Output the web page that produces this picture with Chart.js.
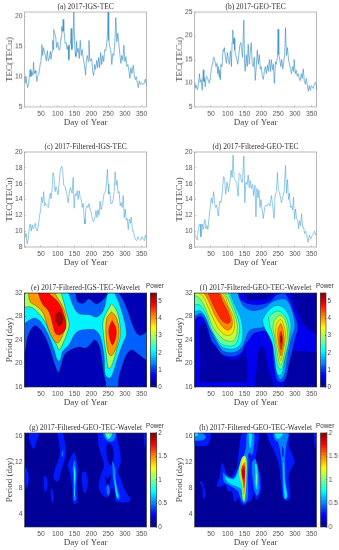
<!DOCTYPE html>
<html lang="en">
<head>
    <meta charset="UTF-8">
    <title>2017 TEC and wavelet panels</title>
    <script src="https://cdn.jsdelivr.net/npm/chart.js@4"></script>
    <style>
        html, body { margin: 0; padding: 0; background: #fff; }
        body { width: 339px; height: 550px; position: relative; overflow: hidden; }
        canvas { position: absolute; }
    </style>
</head>
<body>
    <script>
        // Axis ticks
        const dayTicks = [50, 100, 150, 200, 250, 300, 350];
        const igsTicks = [5, 10, 15, 20];
        const geoTicks = [5, 10, 15, 20, 25];
        const filteredTicks = [8, 10, 12, 14, 16, 18, 20];
        const longPeriodTicks = [16, 20, 24, 28, 32];
        const shortPeriodTicks = [4, 8, 12, 16];
        const powerTicksLong = [0, 1, 2, 3, 4, 5];
        const powerTicksShort = [0, 0.5, 1, 1.5, 2];

        // Panel (a)
        const igsDays = [1,3,5,8,10,13,16,18,20,23,26,28,30,33,35,38,40,43,46,48,50,53,55,58,60,63,66,69,72,75,78,80,83,85,87,88,91,94,97,100,103,106,110,112,114,116,118,120,122,125,128,131,133,135,138,140,142,145,148,150,152,154,156,158,161,164,167,170,173,176,180,183,185,188,191,193,195,198,201,204,207,210,213,216,219,222,225,228,231,234,237,240,243,246,248,250,252,255,258,261,264,267,270,273,276,279,282,285,288,291,294,297,300,303,306,309,312,315,318,321,325,328,331,334,337,340,343,346,350,354,358,361,365];
        const igsTec = [10,9,10.1,8.8,8.2,8.7,10.5,11.2,10,10.8,10.2,12.4,10.5,11,10.6,9.2,10.1,10.3,11.3,12.2,12.5,15.3,13.5,14.8,14.2,13.5,12.6,14.3,12.6,13,14.2,12.9,14.2,16,14.5,17.8,17.2,16.5,14.8,15.7,14.5,14.4,16.5,18.3,17.5,19.5,17.5,17,15.5,15.7,14.5,15.2,12.8,15,15.5,18,14.5,15.5,20.7,16,14,13.3,15.9,14,14.7,13,16,13.5,14.5,13,11.7,10.3,12.5,13.5,12.5,16,13,12.6,13,10.8,10.2,12,11.2,12.7,11.5,13.2,11.5,14,12,13.5,12.5,14.5,14.3,15.5,17,20.7,16,15,14.5,12,13.8,13.5,15.5,19.8,15.8,17.2,15.5,13.8,12.2,13.5,12.7,15.2,12.5,13.3,11.7,12,11,9.7,11.5,10.5,11.9,10.3,9.5,10,9,8.2,9.3,8.7,9,8.7,9,9.6,8.4];

        // Panel (b)
        const geoDays = [1,3,5,8,10,13,16,18,21,24,27,29,31,33,36,39,42,45,48,51,54,56,59,62,65,68,70,72,74,76,78,80,83,86,88,90,93,96,99,102,105,108,111,113,115,117,119,121,124,127,130,133,136,139,141,144,148,150,152,155,158,161,164,167,170,173,176,179,182,185,188,191,194,197,200,203,206,209,212,215,218,221,224,227,230,233,236,239,242,245,248,250,252,255,258,261,264,267,270,272,275,278,281,284,287,290,293,296,298,301,304,307,310,313,316,319,322,325,328,331,334,337,340,343,346,349,352,355,358,361,364,365];
        const geoTec = [10,9,9.7,9,8.6,9.8,12,10.2,10.8,8.5,12.8,10.3,11,9.2,11.5,11.3,10.6,10,11,13,14,15,15.5,14.6,13.5,14.2,12,13.5,11.3,12.8,10.7,14,13.5,17,16.8,17.5,15.5,14.2,16.5,14.8,14,16.8,13.5,18.7,21.2,18.2,19.5,17,15.8,15,14,16,18,18.6,17.3,15.5,23.3,14.5,12.5,16,13.5,18.2,14,16.5,18.5,14,13.5,15.5,10.6,13.5,17,14,16,13,13.5,11.5,10.8,12.5,13.5,12,13.8,12.5,15,12.5,15,12.8,14,10,14.5,14,15.5,21.4,16,15,13.5,15,13,14.5,16.5,21.7,15.8,17.5,15,14,13,12,13.5,12.5,15,12,12.7,11.5,12,11,10.5,12,11,13,10.5,9.8,11,9.5,8.3,9.5,8.5,9.5,9.3,8.9,9.8,10.2,9.5,8.6];

        // Panel (c)
        const filteredIgsDays = [1,3,6,9,12,15,18,21,24,27,30,33,36,39,42,46,49,52,55,58,61,64,68,72,75,78,80,83,86,89,92,95,98,101,105,108,112,115,118,122,125,128,131,135,138,141,143,146,149,152,155,158,161,164,167,170,173,176,179,181,184,187,190,193,196,199,203,207,211,214,217,220,223,226,229,232,235,238,242,245,248,250,252,255,258,262,265,268,271,274,277,280,283,286,289,292,295,298,301,304,307,310,313,316,319,323,326,329,332,335,339,343,347,351,354,358,361,365];
        const filteredIgsTec = [10.2,9.2,9.7,8.4,9,10.3,10.9,10,10.8,10.3,10.6,11,10.2,10,10.6,12,12.6,14.3,13.6,15,13.2,13.5,13.2,13,14.2,14.8,14.1,15.2,17.4,16.8,15,15.6,15.2,14.6,16.5,17.8,18.2,17.5,15.8,15.6,15,14.5,13.6,15,15.5,15,14.8,16.8,12.9,14.7,14.5,15.1,14,15.1,14.2,14,13,13.5,11.5,10.9,12.8,13.2,13,13.5,12.8,12.5,11.5,11.2,11.8,12.6,11.7,12.7,12,13.8,12.7,13.2,13.8,14.8,15,16,17.8,16,14.7,15,13.5,13.5,14,15,17.5,15.8,16.4,14.8,15,13.2,13.6,13,14.5,11.7,12.8,11.4,11.6,10.2,11.5,11,11.8,10,10,9.2,8.9,8.8,9.3,9,8.9,9.3,9,8.8,9.5,8.9];

        // Panel (d)
        const filteredGeoDays = [1,3,6,9,12,15,18,20,24,27,32,35,38,41,45,48,51,54,58,61,64,67,72,76,80,84,88,91,94,98,102,106,110,113,116,119,123,127,131,134,138,141,144,148,151,154,158,161,164,167,170,174,177,181,184,187,190,193,196,199,203,206,210,214,218,222,226,230,234,238,241,245,248,251,254,258,260,264,268,272,275,278,281,284,287,290,293,296,299,302,305,308,311,314,317,320,323,326,329,332,335,339,343,347,351,355,359,362,365];
        const filteredGeoTec = [10,9.5,9.2,8.9,10,10.8,10.9,9.3,10.9,10.2,11.5,10.3,10.7,10.2,12,13,14.2,13.5,15,13.5,13,13.3,11.9,13.8,13.6,15,16.9,16.5,14.7,16.2,15,16,17.7,16.8,19.6,16.6,16.4,16,14.4,17.3,17.1,16.2,16.2,19.5,13.6,16.2,15.9,17.1,15.5,16.4,15.4,15.9,14.5,15.8,11.8,15.4,14.2,15.2,13,14,12.5,11.6,13,13.3,13.2,13.5,13.2,14.5,13.2,11.6,14.5,15,17.4,15.1,15,14,13.6,14.3,15,18.3,14.8,16.5,14,14.8,13,13.2,12.7,14.3,11.5,12.8,11.6,11.5,10.3,11.3,10.7,12.2,10.5,10.5,9.7,10,9.5,8.6,9.5,9,9.4,9.7,10,9.5,9.7];

        // Contour bands: power of the band, then its outline as day,period pairs
        const bandsE = [
            [0.3, [1,16, 365,16, 365,32, 1,32]],
            [1.2, [1,16, 365,16, 365,32, 1,32]],
            [0.3, [1,16, 1,21.5, 4,22.2, 11,24.6, 24,26.1, 34,26.4, 49,25.7, 64,24.3, 79,22, 91,19.8, 102,18.5, 111,19.8, 121,21.5, 138,22.3, 163,22.8, 183,22.6, 196,23.2, 211,24, 224,22.9, 231,20.6, 236,18.4, 238,16]],
            [0.3, [280,16, 283,17.8, 290,19.2, 305,21.5, 320,22.3, 335,21.8, 355,20.9, 365,20.3, 365,16]],
            [0.3, [283,32, 295,30.8, 310,28.8, 325,26.3, 340,24.9, 355,25, 365,25.6, 365,32]],
            [0.3, [153,32, 160,30.5, 178,30.3, 193,31, 213,30.2, 228,30.5, 246,32]],
            [2.0, [1,26.8, 29,27.7, 49,27.1, 74,24.6, 89,22.3, 99,20.6, 107,20.5, 114,22, 134,23.2, 150,24.9, 165,25.6, 196,25.8, 211,25.7, 226,24.6, 238,21.2, 241,18.1, 255,17.5, 265,18.4, 280,21.2, 295,23.5, 305,25.1, 290,29.1, 270,31.9, 265,32, 250,32, 236,29.1, 216,27.9, 196,28.3, 163,28.5, 148,29.6, 133,31.9, 130,32, 1,32]],
            [3.0, [1,29.6, 20,29.6, 39,28.8, 59,27.4, 79,25.1, 99,22.9, 104,22.3, 114,23.2, 131,25.7, 134,26.8, 124,29.1, 111,31.9, 108,32, 1,32]],
            [4.0, [13,32, 18,30.5, 38,29.7, 57,28.5, 77,25.1, 99,23.5, 117,25.1, 125,27.4, 117,29.4, 92,31.9, 92,32]],
            [4.8, [42,32, 54,30.2, 74,28.8, 87,26.3, 94,25.1, 107,24.9, 124,26, 121,27.7, 104,30.2, 74,31.9, 74,32]],
            [5.3, [94,28.2, 94,27.4, 104,26.4, 114,27.1, 114,28, 104,28.8]],
            [3.0, [260,30.2, 275,29.1, 285,26.8, 287,24.9, 275,22.3, 260,19.5, 251,19.2, 244,21.8, 236,25.1, 236,27.4]],
            [4.0, [260,28.8, 273,28, 283,25.7, 275,22.9, 260,21.3, 251,21.8, 244,24.6, 246,27.7]],
            [4.8, [262,27.3, 273,26, 273,24.6, 263,23.2, 254,24.6, 253,26]]
        ];

        const bandsF = [
            [0.2, [1,16, 365,16, 365,32, 1,32]],
            [0.6, [1,16, 365,16, 365,32, 1,32]],
            [0.2, [17,16.9, 20,20, 17,24, 15,25.5, 22,26.5, 30,26.9, 38,25.5, 45,24.5, 55,23.2, 75,22.3, 90,21, 120,20.6, 145,21.4, 150,22.5, 155,20, 155,17, 150,16.9]],
            [0.2, [184,16, 184,17, 188,19.5, 193,22, 203,22.9, 213,21.2, 223,18.4, 233,17, 233,16]],
            [0.2, [268,16, 275,18, 280,20, 283,21.8, 298,22, 330,22, 357,21.8, 365,21.6, 365,16]],
            [0.2, [288,32, 298,30.2, 312,28.5, 332,26.3, 362,25.1, 365,25, 365,32]],
            [0.2, [150,32, 160,31, 185,30.9, 215,31.1, 235,32]],
            [1.1, [1,27.3, 15,28, 28,27.6, 40,26, 50,24, 65,22.9, 85,21.5, 120,21.2, 143,22, 150,23, 163,24, 175,25, 190,25.3, 210,25.5, 228,25, 235,24, 235,21, 240,18.7, 246,17.2, 260,16.8, 273,17.5, 283,20, 293,22.3, 300,24, 309,26.3, 298,28.5, 283,30.8, 272,31.9, 272,32, 250,31.8, 243,31.6, 225,30.5, 190,30, 160,30.2, 140,30.8, 125,31.8, 125,32, 1,32]],
            [1.6, [1,28, 20,28.5, 35,27.5, 50,25.5, 63,24, 75,22.9, 90,22, 120,21.9, 140,22.6, 150,23.7, 165,25.6, 190,26, 225,26, 238,24, 240,21.2, 245,19, 253,17.4, 260,17.3, 270,18.4, 278,21.2, 288,24, 300,26.5, 288,29.6, 275,30.8, 262,31, 235,30.6, 210,29.5, 175,29, 150,29.6, 135,31, 128,32, 1,32]],
            [2.1, [1,28.8, 18,29, 33,28, 47,26, 60,24.8, 72,23.5, 88,22.7, 120,22.5, 138,23.3, 145,25, 140,27.5, 125,29.5, 110,31.5, 108,32, 1,32]],
            [2.1, [203,27.4, 223,29.1, 248,29.9, 273,29.1, 288,26.8, 283,24, 270,20.7, 262,18.4, 253,18, 246,18.4, 238,21.5, 232,23.5, 220,25, 210,26]],
            [2.6, [1,30, 15,30, 30,29, 42,27.5, 52,25.7, 68,24.2, 85,23.2, 120,23.1, 132,24.5, 135,26.5, 125,28.5, 105,31.5, 100,32, 1,32]],
            [3.1, [1,31.5, 10,31.4, 25,30.4, 40,28.5, 55,26.3, 72,25, 92,24, 118,23.9, 128,25.5, 125,27.5, 112,29.5, 92,31.9, 90,32, 1,32]],
            [3.6, [15,32, 28,31.3, 42,29.5, 58,27.5, 75,25.7, 95,24.8, 112,25, 120,26, 118,27.7, 103,29.7, 82,32]],
            [4.1, [28,32, 35,31.5, 48,30, 62,28.2, 78,26.7, 98,25.7, 110,26, 114,27, 108,28.6, 92,30.6, 75,32]],
            [4.6, [42,32, 52,30.5, 67,28.8, 83,27.3, 100,26.8, 108,27.3, 100,28.8, 85,30.5, 72,32]],
            [2.6, [222,28, 245,28.9, 265,28.5, 280,26.8, 282,24, 270,21, 262,19.2, 255,19, 247,20, 240,23, 233,25, 225,26.5]],
            [3.1, [238,27.3, 255,28.2, 270,27.5, 278,25, 268,21.5, 258,19.7, 250,21, 240,24.5, 235,26]],
            [3.6, [245,26.8, 258,27.5, 270,26, 272,24.5, 265,22, 258,20.5, 250,22.5, 242,25]],
            [4.1, [250,26, 258,26.8, 266,25.5, 268,23.8, 262,22, 258,21.3, 252,23, 248,25]],
            [4.6, [255,25, 259,25.5, 263,24.5, 263,23.5, 259,22.3, 255,23.5]],
            [5.3, [258,24.7, 260,24.7, 260,23.5, 258,23.5]]
        ];

        const bandsG = [
            [0.05, [1,2, 365,2, 365,16.5, 1,16.5]],
            [0.3, [13,16.5, 18,15, 28,14, 36,15, 43,16.5]],
            [0.3, [1,11.3, 8,11, 15,9.5, 8,8, 1,9]],
            [0.3, [58,9.8, 66,9.8, 70,8.5, 66,7.5, 60,7.5]],
            [0.3, [78,8, 86,7.5, 88,6, 82,5.8]],
            [0.3, [98,16.5, 104,15, 106,13.5, 100,12, 92,11, 88,9.5, 100,9, 112,11, 122,12.5, 125,14, 120,15.5, 115,16.5]],
            [0.5, [113,13.9, 116,13.6, 115,12.8, 112,13]],
            [0.3, [140,13, 150,13.5, 158,12, 162,11, 158,9, 160,7, 158,5.8, 150,5.5, 145,6, 143,8, 135,10.5, 130,11.5]],
            [0.3, [172,10.5, 183,10.5, 190,9, 185,7.5, 178,7.2, 172,9]],
            [0.3, [218,16.5, 222,14.5, 230,13, 238,11.5, 228,10, 222,8, 232,7, 245,6.5, 252,6.7, 260,8, 268,7.5, 272,6, 285,5.8, 305,5.8, 318,6.2, 308,7, 298,8, 288,9.5, 280,10.5, 288,12, 285,14, 278,15.5, 272,16.5]],
            [0.05, [248,15, 262,14.5, 266,12.5, 258,11.5, 248,12.5, 245,14]],
            [0.05, [240,10, 248,9.5, 258,10, 255,8.7, 248,8.2]],
            [0.5, [234,16.5, 272,16.5, 266,15.3, 252,15.2, 243,15.5]],
            [0.8, [240,16.5, 262,16.5, 255,15.7, 248,15.6]],
            [1.1, [245,16.5, 255,16.5, 250,16]],
            [0.5, [262,12.3, 272,11, 272,9.5, 280,7.5, 285,6.5, 278,6.2, 270,8, 264,10]],
            [0.7, [268,11.5, 270,10, 278,7.3, 281,6.7, 276,6.5, 270,8.5]],
            [0.5, [250,8.7, 255,7.5, 250,6.8, 245,8]],
            [0.5, [150,12.5, 155,11, 155,9, 152,7, 155,6.3, 148,6, 147,8, 147,10, 144,11]],
            [0.8, [150,11.5, 153,10, 150,8.5, 151,7, 149,6.5, 148,8.5, 148,10.5]],
            [0.3, [355,16.5, 362,16.5, 360,14]]
        ];

        const bandsH = [
            [0.05, [1,2, 365,2, 365,16.5, 1,16.5]],
            [0.3, [1,16.5, 47,16.5, 45,15, 35,14.5, 20,14.5, 1,14.7]],
            [0.5, [1,16.5, 25,16.5, 35,15.8, 25,15.4, 1,15.4]],
            [0.7, [1,16.5, 12,16.5, 8,16, 1,15.9]],
            [0.3, [15,9, 23,9, 33,7.5, 33,6.5, 26,6.5, 25,8]],
            [0.3, [82,12.2, 88,11.5, 100,10, 110,9.8, 125,11, 130,12.5, 135,14.5, 145,16.5, 190,16.5, 188,14, 182,12, 190,11, 198,10, 200,8, 195,6.8, 185,6.2, 178,7, 170,6, 160,5.8, 148,5.3, 140,5.6, 132,6.5, 125,6, 118,6, 112,7.5, 100,7.5, 92,8.5, 80,8.2, 68,8.3, 76,10]],
            [0.5, [85,10.5, 100,9.8, 118,9.6, 132,11.2, 140,12, 160,13, 160,9, 160,6.5, 150,5.6, 140,6.2, 130,7.5, 118,8, 100,8.5, 88,9]],
            [0.5, [148,13, 155,14.5, 158,16.5, 178,16.5, 178,14.5, 172,13, 166,13.5, 160,13, 156,12]],
            [0.5, [172,12, 182,12.5, 192,10.5, 195,8, 188,6.8, 180,7.5, 175,9, 172,10.5]],
            [0.7, [90,10, 100,9.6, 118,9.4, 128,10.2, 135,11, 150,11, 155,9, 150,6.5, 145,6.2, 140,7.8, 128,8.2, 112,8.5, 98,9]],
            [0.7, [162,16.5, 172,16.5, 170,14.5, 165,14.2]],
            [0.7, [180,11.8, 187,11.6, 190,9.5, 187,7.8, 183,8, 182,10]],
            [0.95, [183,10, 187,10.3, 187,8.5, 184,8.3]],
            [1.0, [133,11, 142,12.7, 152,13, 157,12, 156,9.5, 152,6.3, 148,5.9, 144,6.5, 142,8.5, 135,9.5]],
            [1.25, [138,11, 146,12.7, 152,12.8, 154,11.5, 153,9, 150,6.3, 148,6.2, 146,7.5, 143,9, 138,10]],
            [1.5, [140,11, 146,11.8, 152,12, 152,9.8, 150,7.5, 148,7, 147,8.5, 142,9.5]],
            [1.7, [141,10.8, 146,11.5, 151,11.3, 151,9.5, 148,8, 146,9.2, 142,10]],
            [1.9, [143,10.7, 147,11, 150,10.5, 149,9.6, 147,9.4, 144,10]],
            [0.3, [215,16.5, 225,15, 240,13.5, 252,11.5, 258,9, 262,7, 270,6, 285,6.3, 285,8, 282,10, 295,11.5, 300,12, 290,13.5, 282,14.5, 280,16.5]],
            [0.5, [235,16.5, 280,16.5, 276,15, 272,13.5, 270,12, 272,9, 278,7, 275,6.3, 268,6.3, 264,8, 262,11, 258,13, 250,15, 240,15.5]],
            [0.3, [262,14.5, 266,14, 266,12.8, 262,13]],
            [0.7, [265,12, 268,12, 270,9, 277,7, 275,6.4, 270,6.5, 266,9]],
            [0.7, [240,16.5, 265,16.5, 255,15.7, 245,15.7]],
            [0.3, [355,16.5, 363,16.5, 360,14]]
        ];

        const serif = '"Liberation Serif", serif';
        const sans = '"Liberation Sans", sans-serif';

        // MATLAB jet, t in 0..1
        function jet(t) {
            const c = v => Math.round(255 * Math.max(0, Math.min(1, 1.5 - Math.abs(4 * t - v))));
            return `rgb(${c(3)},${c(2)},${c(1)})`;
        }

        // Fill each contour outline just before Chart.js strokes it
        const bandFill = {
            id: 'bandFill',
            beforeDatasetDraw(chart, args) {
                const color = chart.data.datasets[args.index].bandColor;
                if (!color) return;
                const a = chart.chartArea, ctx = chart.ctx;
                ctx.save();
                ctx.beginPath();
                ctx.rect(a.left, a.top, a.width, a.height);
                ctx.clip();
                ctx.beginPath();
                args.meta.dataset.path(ctx);
                ctx.closePath();
                ctx.fillStyle = color;
                ctx.fill();
                ctx.restore();
            }
        };

        // Box round the plot area
        const plotBox = {
            id: 'plotBox',
            afterDraw(chart, args, opts) {
                const a = chart.chartArea, ctx = chart.ctx;
                ctx.save();
                ctx.strokeStyle = opts.color;
                ctx.lineWidth = 0.6;
                ctx.strokeRect(a.left, a.top, a.width, a.height);
                ctx.restore();
            }
        };

        function addCanvas(left, top, width, height) {
            const canvas = document.createElement('canvas');
            canvas.width = width;
            canvas.height = height;
            canvas.style.left = left + 'px';
            canvas.style.top = top + 'px';
            canvas.style.width = width + 'px';
            canvas.style.height = height + 'px';
            document.body.appendChild(canvas);
            return canvas;
        }

        function useTicks(values) {
            return scale => { scale.ticks = values.map(value => ({ value })); };
        }

        const COL_W = 171, HEAD = 13, FOOT = 26, PLOT_L = 24.5, PLOT_R = 146.7, POWER_LEFT = 4.3;

        function panelOptions(p) {
            const tickFont = { family: sans, size: 6.8 };
            return {
                responsive: false,
                animation: false,
                layout: { padding: { right: COL_W - PLOT_R } },
                plugins: {
                    legend: { display: false },
                    tooltip: { enabled: false },
                    plotBox: { color: p.boxColor },
                    title: {
                        display: true,
                        fullSize: false,
                        text: p.title,
                        color: '#333',
                        font: { family: serif, size: 7.5, weight: 'normal', lineHeight: 1.2 },
                        padding: { top: 3.4, bottom: 0.6 }
                    }
                },
                scales: {
                    x: {
                        type: 'linear',
                        min: 1,
                        max: 365,
                        afterFit: s => { s.height = FOOT; },
                        afterBuildTicks: useTicks(dayTicks),
                        border: { display: false },
                        grid: { drawOnChartArea: false, tickLength: -1.5, color: p.boxColor, lineWidth: 0.5, z: 1 },
                        ticks: { font: tickFont, color: '#555', padding: 4.5, maxRotation: 0, autoSkip: false },
                        title: {
                            display: true,
                            text: 'Day of Year',
                            color: '#444',
                            font: { family: serif, size: 9, lineHeight: 1.2 },
                            padding: { top: 0, bottom: 4.6 }
                        }
                    },
                    y: {
                        type: 'linear',
                        min: p.yMin,
                        max: p.yMax,
                        afterFit: s => { s.width = PLOT_L; },
                        afterBuildTicks: useTicks(p.yTicks),
                        border: { display: false },
                        grid: { drawOnChartArea: false, tickLength: -1.5, color: p.boxColor, lineWidth: 0.5, z: 1 },
                        ticks: { font: tickFont, color: '#555', padding: 3.5, autoSkip: false },
                        title: {
                            display: true,
                            text: p.yTitle,
                            color: '#444',
                            font: { family: serif, size: 9, lineHeight: 1.2 },
                            padding: { top: 4, bottom: 0 }
                        }
                    }
                }
            };
        }

        function linePanel(p) {
            const canvas = addCanvas(p.left, p.top - HEAD, COL_W, HEAD + p.height + FOOT);
            new Chart(canvas, {
                type: 'scatter',
                data: {
                    datasets: [{
                        data: p.days.map((x, i) => ({ x, y: p.values[i] })),
                        showLine: true,
                        pointRadius: 0,
                        borderColor: p.color,
                        borderWidth: 0.6
                    }]
                },
                options: panelOptions({ ...p, boxColor: '#8a8a8a', yTitle: 'TEC(TECu)' }),
                plugins: [plotBox]
            });
        }

        function contourPanel(p) {
            const canvas = addCanvas(p.left, p.top - HEAD, COL_W, HEAD + p.height + FOOT);
            const datasets = p.bands.map(([power, outline], i) => {
                const data = [];
                for (let k = 0; k < outline.length; k += 2) {
                    data.push({ x: outline[k], y: outline[k + 1] });
                }
                data.push(data[0]);
                return {
                    data,
                    showLine: true,
                    pointRadius: 0,
                    tension: i === 0 ? 0 : p.tension,
                    bandColor: jet(power / p.powerMax),
                    borderColor: p.lineColor,
                    borderWidth: 0.5,
                    order: p.bands.length - i
                };
            });
            new Chart(canvas, {
                type: 'scatter',
                data: { datasets },
                options: panelOptions({ ...p, boxColor: '#333', yTitle: 'Period (day)' }),
                plugins: [bandFill, plotBox]
            });

            // Colour bar beside the panel, one floating bar per colour step
            const barCanvas = addCanvas(p.barLeft - POWER_LEFT, p.top - HEAD, 32 + POWER_LEFT, HEAD + p.height + FOOT);
            const steps = 64;
            const stepIndex = Array.from({ length: steps }, (_, i) => i);
            new Chart(barCanvas, {
                type: 'bar',
                data: {
                    labels: ['Power'],
                    datasets: stepIndex.map(i => ({
                        data: [[i / steps * p.powerMax, (i + 1) / steps * p.powerMax]],
                        yAxisID: 'y',
                        backgroundColor: jet((i + 0.5) / steps),
                        borderWidth: 0,
                        barPercentage: 1,
                        categoryPercentage: 1,
                        grouped: false
                    }))
                },
                options: {
                    responsive: false,
                    animation: false,
                    layout: { padding: { bottom: FOOT } },
                    plugins: {
                        legend: { display: false },
                        tooltip: { enabled: false },
                        plotBox: { color: '#333' },
                        title: {
                            display: true,
                            align: 'start',
                            text: 'Power',
                            color: '#333',
                            font: { family: sans, size: 6.3, weight: 'normal', lineHeight: 1.2 },
                            padding: { top: 2.8, bottom: 2.6 }
                        }
                    },
                    scales: {
                        x: { display: false },
                        y: {
                            position: 'right',
                            min: 0,
                            max: p.powerMax,
                            afterFit: s => { s.width = p.barTickW; },
                            afterBuildTicks: useTicks(p.powerTicks),
                            border: { display: false },
                            grid: { drawOnChartArea: false, tickLength: -1, color: '#333', lineWidth: 0.5, z: 1 },
                            ticks: { font: { family: sans, size: 6.3 }, color: '#444', padding: 2.5, autoSkip: false, callback: v => String(v) }
                        },
                        spacer: {
                            position: 'left',
                            afterFit: s => { s.width = POWER_LEFT; },
                            afterBuildTicks: useTicks([]),
                            border: { display: false },
                            grid: { display: false },
                            ticks: { display: false }
                        }
                    }
                },
                plugins: [plotBox]
            });
        }

        linePanel({ left: 0, top: 12.3, height: 94.4, title: '(a) 2017-IGS-TEC', days: igsDays, values: igsTec, yMin: 5, yMax: 20.7, yTicks: igsTicks, color: '#2a86c0' });
        linePanel({ left: 170, top: 12.3, height: 94.4, title: '(b) 2017-GEO-TEC', days: geoDays, values: geoTec, yMin: 5, yMax: 25, yTicks: geoTicks, color: '#2a86c0' });
        linePanel({ left: 0, top: 152.3, height: 95, title: '(c) 2017-Filtered-IGS-TEC', days: filteredIgsDays, values: filteredIgsTec, yMin: 8, yMax: 20, yTicks: filteredTicks, color: '#4aa6d6' });
        linePanel({ left: 170, top: 152.3, height: 95, title: '(d) 2017-Filtered-GEO-TEC', days: filteredGeoDays, values: filteredGeoTec, yMin: 8, yMax: 20, yTicks: filteredTicks, color: '#4aa6d6' });

        contourPanel({ left: 0, top: 292.7, height: 94.6, title: '(e) 2017-Filtered-IGS-TEC-Wavelet', bands: bandsE, yMin: 16, yMax: 32, yTicks: longPeriodTicks, powerMax: 5.5, powerTicks: powerTicksLong, barLeft: 150, barTickW: 25.3, lineColor: 'rgba(0,0,0,0.6)', tension: 0.35 });
        contourPanel({ left: 170, top: 292.7, height: 94.6, title: '(f) 2017-Filtered-GEO-TEC-Wavelet', bands: bandsF, yMin: 16, yMax: 32, yTicks: longPeriodTicks, powerMax: 5.5, powerTicks: powerTicksLong, barLeft: 320, barTickW: 26, lineColor: 'rgba(0,0,0,0.45)', tension: 0.35 });
        contourPanel({ left: 0, top: 433.3, height: 94, title: '(g) 2017-Filtered-GEO-TEC-Wavelet', bands: bandsG, yMin: 2, yMax: 16.5, yTicks: shortPeriodTicks, powerMax: 2, powerTicks: powerTicksShort, barLeft: 150, barTickW: 25.3, lineColor: 'rgba(0,0,60,0.15)', tension: 0.35 });
        contourPanel({ left: 170, top: 433.3, height: 94, title: '(h) 2017-Filtered-GEO-TEC-Wavelet', bands: bandsH, yMin: 2, yMax: 16.5, yTicks: shortPeriodTicks, powerMax: 2, powerTicks: powerTicksShort, barLeft: 320.7, barTickW: 25.3, lineColor: 'rgba(0,0,60,0.15)', tension: 0.35 });
    </script>
</body>
</html>
